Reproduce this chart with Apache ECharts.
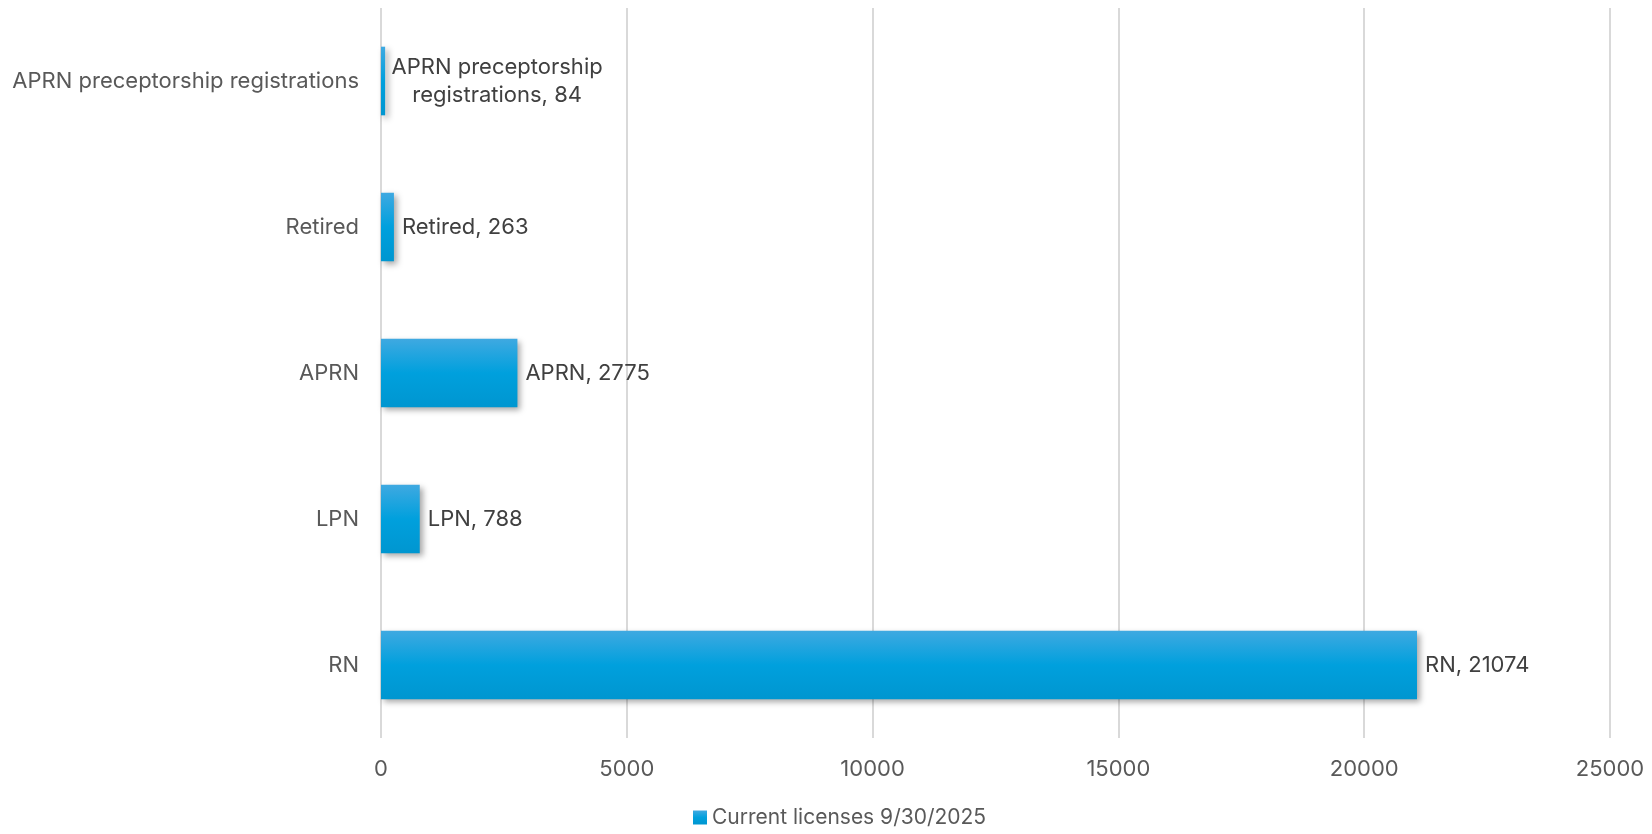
<!DOCTYPE html>
<html>
<head>
<meta charset="utf-8">
<style>
  html, body { margin: 0; padding: 0; background: #fff; }
  #chart { width: 1652px; height: 834px; }
</style>
<script src="https://cdn.jsdelivr.net/npm/echarts@6/dist/echarts.min.js"></script>
</head>
<body>
<div id="chart"></div>
<script>
  const categories = ["RN", "LPN", "APRN", "Retired", "APRN preceptorship registrations"];
  const values = [21074, 788, 2775, 263, 84];
  const seriesName = "Current licenses 9/30/2025";
  const xTicks = { min: 0, max: 25000, interval: 5000 };

  const fontFamily = "Inter, 'Noto Sans', sans-serif";

  const barColor = new echarts.graphic.LinearGradient(0, 0, 0, 1, [
    { offset: 0, color: "#3fa9e1" },
    { offset: 0.5, color: "#00a0dd" },
    { offset: 1, color: "#0096d0" },
  ]);

  const data = values.map((v, i) => {
    const item = { value: v };
    if (categories[i] === "APRN preceptorship registrations") {
      item.label = {
        formatter: "APRN preceptorship\nregistrations, " + v,
        align: "center",
        offset: [104, 0],
        lineHeight: 28,
      };
    }
    return item;
  });

  const option = {
    animation: false,
    grid: {
      top: 8,
      bottom: 96,
      left: 381,
      right: 42,
      containLabel: false,
    },
    legend: {
      data: [seriesName],
      bottom: 1,
      left: 688,
      icon: "rect",
      itemWidth: 14,
      itemHeight: 14,
      itemGap: 4,
      textStyle: {
        color: "#595959",
        fontSize: 21,
        fontFamily: fontFamily,
      },
    },
    xAxis: {
      type: "value",
      min: xTicks.min,
      max: xTicks.max,
      interval: xTicks.interval,
      axisLine: { show: false },
      axisTick: { show: false },
      splitLine: {
        lineStyle: { color: "#d9d9d9", width: 2 },
      },
      axisLabel: {
        color: "#595959",
        fontSize: 22,
        fontFamily: fontFamily,
        margin: 20,
        formatter: (v) => String(v),
      },
    },
    yAxis: {
      type: "category",
      data: categories,
      axisLine: { show: false },
      axisTick: { show: false },
      axisLabel: {
        color: "#595959",
        fontSize: 22,
        fontFamily: fontFamily,
        margin: 22,
      },
    },
    series: [
      {
        name: seriesName,
        type: "bar",
        data: data,
        barCategoryGap: "53%",
        itemStyle: {
          color: barColor,
          shadowColor: "rgba(0,0,0,0.35)",
          shadowBlur: 6,
          shadowOffsetX: 3,
          shadowOffsetY: 3,
        },
        label: {
          show: true,
          position: "right",
          distance: 8,
          color: "#404040",
          fontSize: 22,
          fontFamily: fontFamily,
          formatter: (p) => p.name + ", " + p.value,
        },
      },
    ],
  };

  echarts.init(document.getElementById("chart")).setOption(option);
</script>
</body>
</html>
